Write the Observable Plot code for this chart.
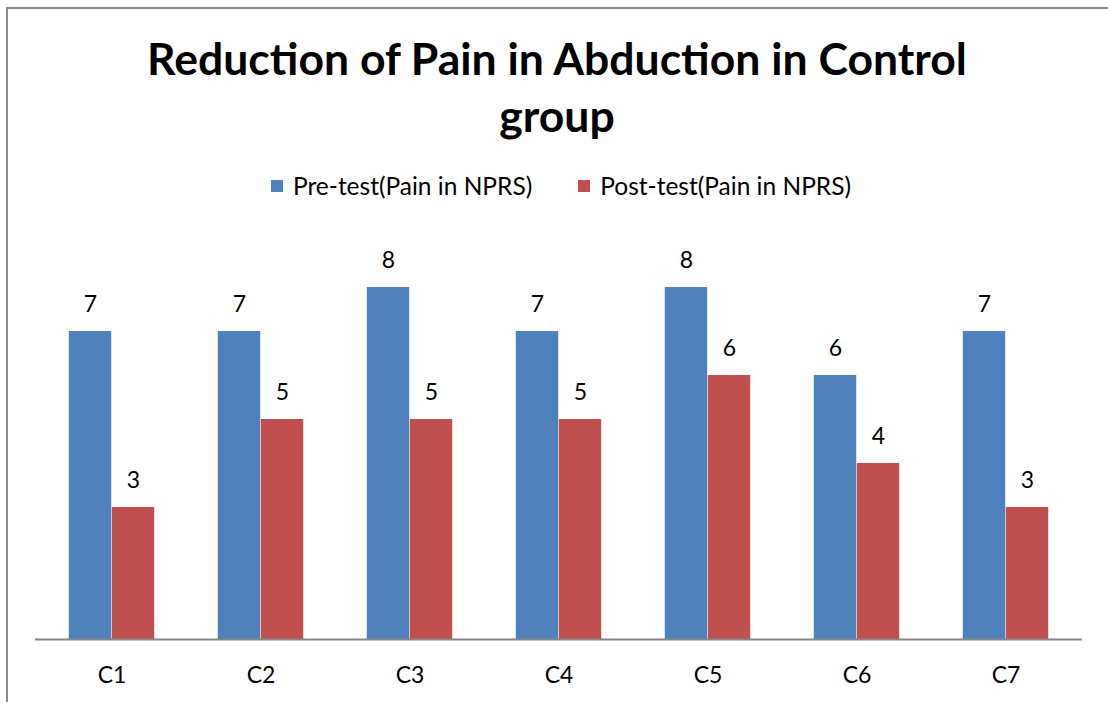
<!DOCTYPE html>
<html>
<head>
<meta charset="utf-8">
<script src="https://cdn.jsdelivr.net/npm/d3@7"></script>
<script src="https://cdn.jsdelivr.net/npm/@observablehq/plot@0.6"></script>
<style>
  html, body { margin: 0; padding: 0; background: #fff; }
  #wrap { position: relative; width: 1108px; height: 702px; overflow: hidden; font-family: Lato, "Open Sans", sans-serif; }
  #border { position: absolute; left: 6px; top: 7px; right: -2px; bottom: -2px; border-left: 2px solid #8a8a8a; border-top: 2px solid #8a8a8a; }
  #title { position: absolute; left: 6px; width: 1102px; top: 29px; text-align: center; font-weight: bold; font-size: 44.5px; line-height: 57px; color: #000; }
  #legend { position: absolute; left: 6px; width: 1102px; top: 171px; display: flex; justify-content: center; gap: 46px; font-size: 24.5px; color: #000; padding-left: 8px; box-sizing: border-box; }
  .item { display: flex; align-items: center; gap: 10px; }
  .sw { width: 12px; height: 12px; display: inline-block; }
  #chart { position: absolute; left: 0; top: 222px; }
</style>
</head>
<body>
<div id="wrap">
  <div id="border"></div>
  <div id="title">Reduction of Pain in Abduction in Control<br>group</div>
  <div id="legend"></div>
  <div id="chart"></div>
</div>
<script>
const categories = ["C1", "C2", "C3", "C4", "C5", "C6", "C7"];
const seriesNames = ["Pre-test(Pain in NPRS)", "Post-test(Pain in NPRS)"];
const preTest = [7, 7, 8, 7, 8, 6, 7];
const postTest = [3, 5, 5, 5, 6, 4, 3];
const colors = ["#4F81BD", "#C0504D"];

const data = [];
categories.forEach((c, i) => {
  data.push({cat: c, series: seriesNames[0], value: preTest[i]});
  data.push({cat: c, series: seriesNames[1], value: postTest[i]});
});

// legend
const legend = document.getElementById("legend");
seriesNames.forEach((s, i) => {
  const it = document.createElement("div");
  it.className = "item";
  it.innerHTML = `<span class="sw" style="background:${colors[i]}"></span><span>${s}</span>`;
  legend.appendChild(it);
});

const W = 1108, H = 480;
const mL = 35, mR = 26, mT = 21, mB = 63;
const step = (W - mL - mR) / categories.length;
const barW = 43;

const pre = data.filter(d => d.series === seriesNames[0]);
const post = data.filter(d => d.series === seriesNames[1]);

const plot = Plot.plot({
  width: W, height: H,
  marginLeft: mL, marginRight: mR, marginTop: mT, marginBottom: mB,
  style: {fontFamily: "Lato, 'Open Sans', sans-serif", fontSize: "22px", color: "#000", background: "transparent"},
  x: {domain: categories, padding: 0, label: null},
  y: {domain: [0, 9], axis: null},
  color: {domain: seriesNames, range: colors},
  marks: [
    Plot.barY(pre, {x: "cat", y: "value", fill: "series", insetLeft: step / 2 - barW, insetRight: step / 2}),
    Plot.barY(post, {x: "cat", y: "value", fill: "series", insetLeft: step / 2, insetRight: step / 2 - barW}),
    Plot.text(pre, {x: "cat", y: "value", text: d => String(d.value), dx: -barW / 2, dy: -27, fill: "#000", fontSize: 23, lineAnchor: "middle"}),
    Plot.text(post, {x: "cat", y: "value", text: d => String(d.value), dx: barW / 2, dy: -27, fill: "#000", fontSize: 23, lineAnchor: "middle"}),
    Plot.axisX({anchor: "bottom", tickSize: 0, tickPadding: 27, fontSize: 23, label: null, fill: "#000"}),
    Plot.ruleY([0], {stroke: "#868686", strokeWidth: 2})
  ]
});
document.getElementById("chart").appendChild(plot);
</script>
</body>
</html>
